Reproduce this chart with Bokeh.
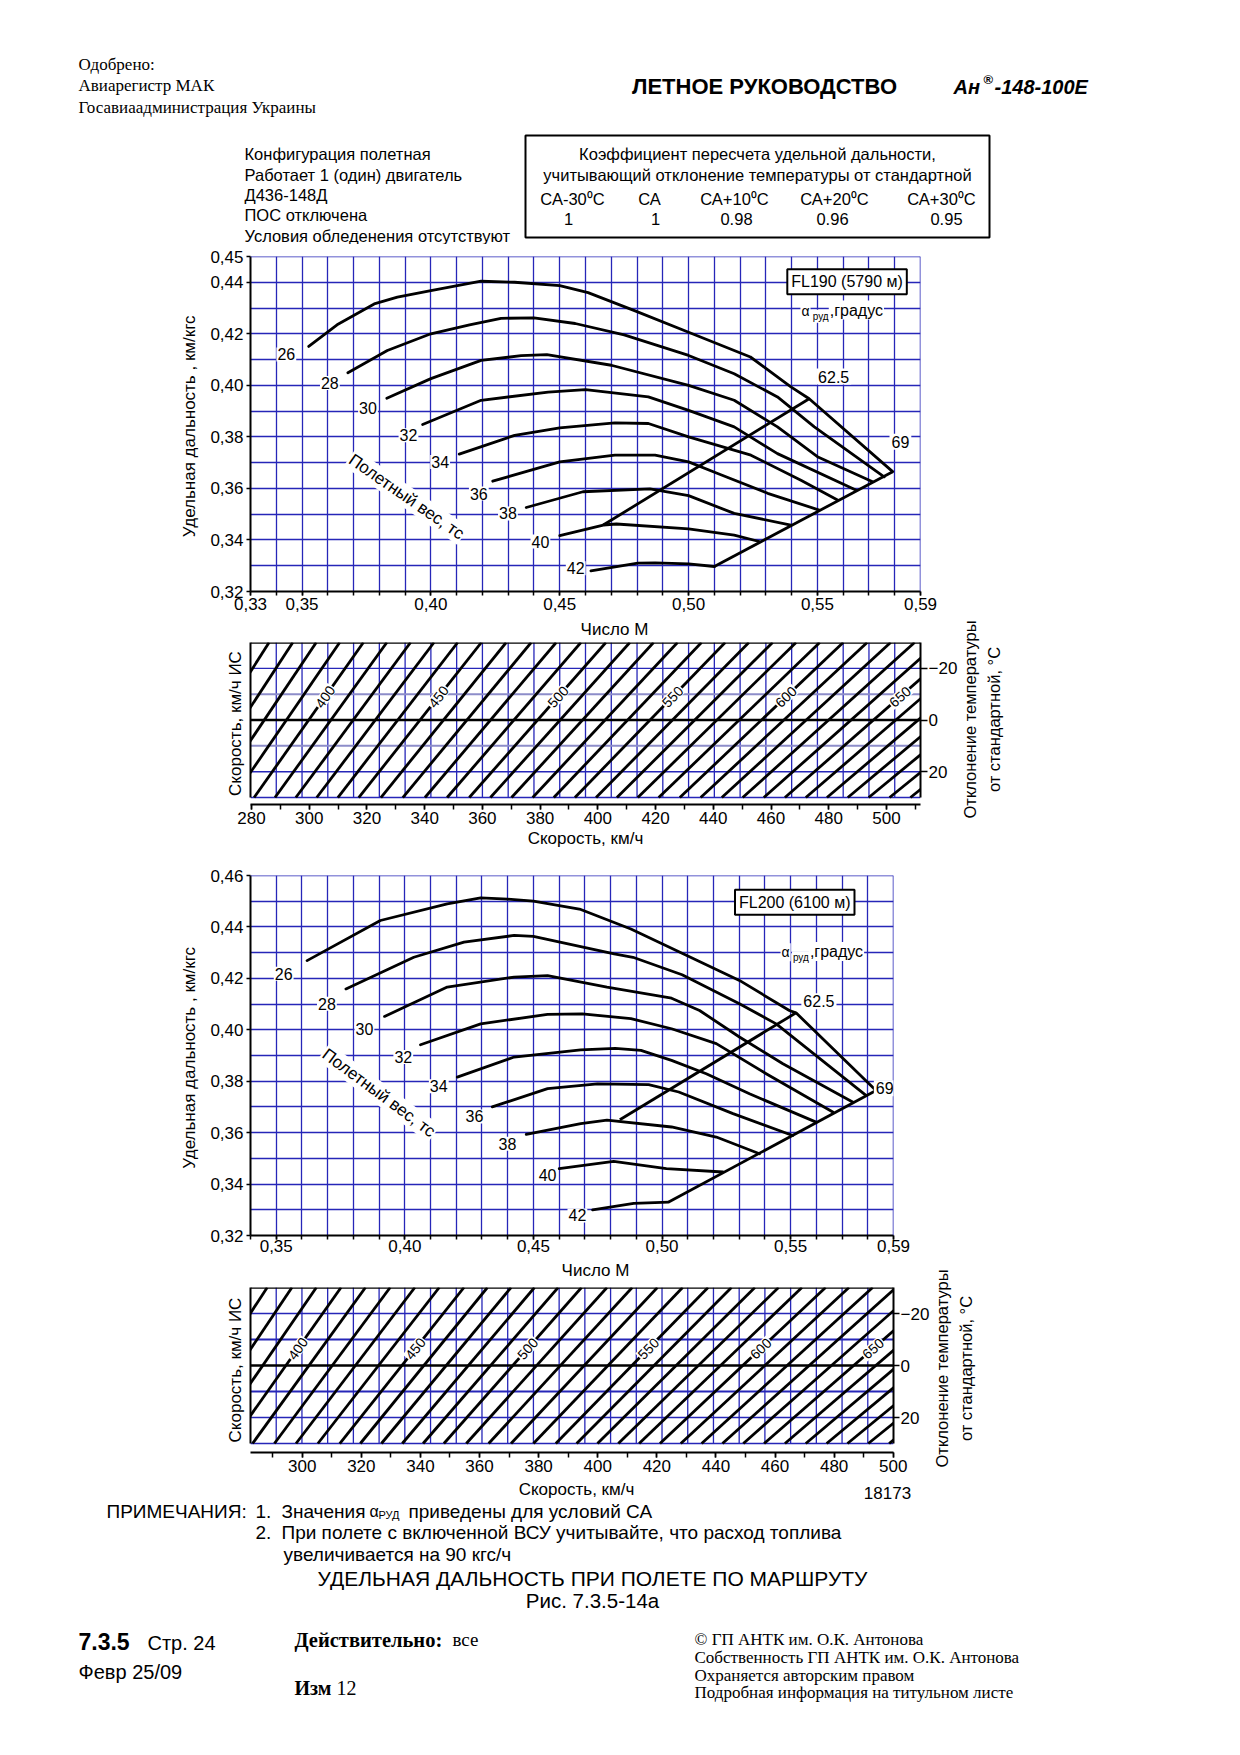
import math
from bokeh.plotting import figure
from bokeh.models import Range1d, LinearAxis, FixedTicker, Label, ColumnDataSource, Span
from bokeh.layouts import column, row
from bokeh.embed import file_html
from bokeh.resources import INLINE
from bokeh.core.properties import value

SANS = "Liberation Sans"
SERIF = "Liberation Serif"
BLUE = "#2626b8"
LAV = "#8d8dc9"
INK = "black"

# ---------------- data ----------------
weights = [26, 28, 30, 32, 34, 36, 38, 40, 42]

# FL190: specific range (km/kgf) vs Mach, one pair of lists per flight weight (t)
fl190_m26 = [0.3526, 0.3636, 0.3780, 0.3870, 0.4000, 0.4195, 0.4325, 0.4500, 0.4610, 0.4790, 0.5000, 0.5240, 0.5397, 0.5468, 0.5792]
fl190_r26 = [0.4151, 0.4235, 0.4316, 0.4342, 0.4368, 0.4404, 0.4400, 0.4387, 0.4360, 0.4290, 0.4206, 0.4110, 0.3994, 0.3948, 0.3665]
fl190_m28 = [0.3678, 0.3831, 0.4000, 0.4150, 0.4272, 0.4400, 0.4560, 0.4750, 0.5000, 0.5177, 0.5345, 0.5488, 0.5759]
fl190_r28 = [0.4049, 0.4135, 0.4200, 0.4235, 0.4260, 0.4262, 0.4240, 0.4196, 0.4116, 0.4045, 0.3955, 0.3839, 0.3645]
fl190_m30 = [0.3829, 0.4000, 0.4195, 0.4350, 0.4450, 0.4700, 0.5000, 0.5177, 0.5345, 0.5500, 0.5714]
fl190_r30 = [0.3950, 0.4026, 0.4097, 0.4115, 0.4119, 0.4078, 0.4000, 0.3942, 0.3839, 0.3723, 0.3626]
fl190_m32 = [0.3968, 0.4195, 0.4455, 0.4600, 0.4844, 0.5000, 0.5177, 0.5345, 0.5649]
fl190_r32 = [0.3848, 0.3942, 0.3974, 0.3983, 0.3955, 0.3903, 0.3839, 0.3735, 0.3594]
fl190_m34 = [0.4110, 0.4325, 0.4500, 0.4714, 0.4844, 0.5000, 0.5242, 0.5436, 0.5578]
fl190_r34 = [0.3733, 0.3806, 0.3835, 0.3854, 0.3852, 0.3800, 0.3729, 0.3632, 0.3555]
fl190_m36 = [0.4240, 0.4500, 0.4714, 0.4870, 0.5000, 0.5113, 0.5307, 0.5507]
fl190_r36 = [0.3628, 0.3703, 0.3729, 0.3729, 0.3703, 0.3658, 0.3581, 0.3516]
fl190_m38 = [0.4370, 0.4590, 0.4850, 0.5000, 0.5177, 0.5397]
fl190_r38 = [0.3526, 0.3587, 0.3598, 0.3572, 0.3503, 0.3458]
fl190_m40 = [0.4500, 0.4669, 0.4720, 0.5000, 0.5177, 0.5274]
fl190_r40 = [0.3417, 0.3458, 0.3462, 0.3443, 0.3419, 0.3394]
fl190_m42 = [0.4621, 0.4803, 0.4870, 0.5000, 0.5100]
fl190_r42 = [0.3280, 0.3310, 0.3311, 0.3307, 0.3297]
fl190_a625_m = [0.4669, 0.5468]
fl190_a625_r = [0.3458, 0.3948]
fl190_a69_m = [0.5100, 0.5792]
fl190_a69_r = [0.3297, 0.3665]
fl190_lab_m = [0.3439, 0.3608, 0.3756, 0.3913, 0.4036, 0.4186, 0.4299, 0.4425, 0.4562]
fl190_lab_r = [0.4120, 0.4009, 0.3914, 0.3806, 0.3703, 0.3580, 0.3503, 0.3394, 0.3290]

# FL200
fl200_m26 = [0.3620, 0.3905, 0.4165, 0.4295, 0.4400, 0.4500, 0.4684, 0.4879, 0.5078, 0.5301, 0.5495, 0.5521, 0.5832]
fl200_r26 = [0.4269, 0.4425, 0.4490, 0.4513, 0.4508, 0.4500, 0.4468, 0.4392, 0.4298, 0.4192, 0.4075, 0.4066, 0.3764]
fl200_m28 = [0.3771, 0.4035, 0.4230, 0.4425, 0.4500, 0.4814, 0.4887, 0.5078, 0.5301, 0.5444, 0.5793]
fl200_r28 = [0.4159, 0.4282, 0.4341, 0.4367, 0.4363, 0.4295, 0.4282, 0.4214, 0.4101, 0.4023, 0.3745]
fl200_m30 = [0.3921, 0.4165, 0.4425, 0.4555, 0.4786, 0.5037, 0.5146, 0.5301, 0.5470, 0.5741]
fl200_r30 = [0.4052, 0.4166, 0.4205, 0.4211, 0.4166, 0.4123, 0.4075, 0.3972, 0.3868, 0.3719]
fl200_m32 = [0.4061, 0.4295, 0.4555, 0.4690, 0.4879, 0.5037, 0.5211, 0.5405, 0.5664]
fl200_r32 = [0.3942, 0.4023, 0.4060, 0.4062, 0.4043, 0.4004, 0.3946, 0.3829, 0.3680]
fl200_m34 = [0.4204, 0.4425, 0.4684, 0.4818, 0.4918, 0.5037, 0.5172, 0.5340, 0.5599]
fl200_r34 = [0.3816, 0.3894, 0.3922, 0.3928, 0.3920, 0.3881, 0.3829, 0.3751, 0.3641]
fl200_m36 = [0.4340, 0.4555, 0.4749, 0.4948, 0.5065, 0.5276, 0.5508]
fl200_r36 = [0.3700, 0.3771, 0.3790, 0.3787, 0.3758, 0.3674, 0.3589]
fl200_m38 = [0.4472, 0.4684, 0.4786, 0.5037, 0.5211, 0.5379]
fl200_r38 = [0.3593, 0.3635, 0.3649, 0.3622, 0.3583, 0.3518]
fl200_m40 = [0.4600, 0.4812, 0.5017, 0.5237]
fl200_r40 = [0.3460, 0.3488, 0.3460, 0.3447]
fl200_m42 = [0.4730, 0.4890, 0.5026]
fl200_r42 = [0.3300, 0.3325, 0.3330]
fl200_a625_m = [0.4836, 0.5521]
fl200_a625_r = [0.3650, 0.4066]
fl200_a69_m = [0.5026, 0.5832]
fl200_a69_r = [0.3330, 0.3764]
fl200_lab_m = [0.3529, 0.3697, 0.3843, 0.3994, 0.4132, 0.4271, 0.4399, 0.4555, 0.4671]
fl200_lab_r = [0.4218, 0.4101, 0.4004, 0.3894, 0.3780, 0.3663, 0.3557, 0.3434, 0.3278]

# Nomograms: true-airspeed lines (km/h), Mach where each meets dT=+30 (bottom) and dT=-30 (top)
tas190 = [350, 360, 370, 380, 390, 400, 410, 420, 430, 440, 450, 460, 470, 480, 490, 500, 510, 520, 530,
          540, 550, 560, 570, 580, 590, 600, 610, 620, 630, 640, 650, 660, 670, 680, 690, 700, 710]
tas190_m_bot = [0.2908, 0.2990, 0.3071, 0.3152, 0.3233, 0.3314, 0.3395, 0.3476, 0.3557, 0.3639, 0.3720, 0.3806,
                0.3891, 0.3977, 0.4063, 0.4149, 0.4231, 0.4313, 0.4395, 0.4477, 0.4559, 0.4641, 0.4722, 0.4803,
                0.4884, 0.4966, 0.5047, 0.5129, 0.5210, 0.5292, 0.5374, 0.5455, 0.5537, 0.5618, 0.5699, 0.5780, 0.5861]
tas190_m_top = [0.3280, 0.3372, 0.3464, 0.3555, 0.3646, 0.3738, 0.3829, 0.3921, 0.4012, 0.4104, 0.4196, 0.4292,
                0.4389, 0.4486, 0.4582, 0.4679, 0.4772, 0.4864, 0.4957, 0.5050, 0.5142, 0.5234, 0.5326, 0.5417,
                0.5509, 0.5600, 0.5693, 0.5784, 0.5877, 0.5969, 0.6061, 0.6153, 0.6245, 0.6336, 0.6428, 0.6519, 0.6611]
tas200 = [360, 370, 380, 390, 400, 410, 420, 430, 440, 450, 460, 470, 480, 490, 500, 510, 520, 530,
          540, 550, 560, 570, 580, 590, 600, 610, 620, 630, 640, 650, 660, 670, 680, 690, 700, 710]
tas200_m_bot = [0.2985, 0.3069, 0.3154, 0.3239, 0.3323, 0.3408, 0.3493, 0.3577, 0.3662, 0.3747, 0.3827, 0.3909,
                0.3990, 0.4071, 0.4152, 0.4239, 0.4326, 0.4413, 0.4500, 0.4587, 0.4668, 0.4749, 0.4830, 0.4911,
                0.4992, 0.5073, 0.5154, 0.5235, 0.5316, 0.5397, 0.5478, 0.5559, 0.5640, 0.5721, 0.5802, 0.5883]
tas200_m_top = [0.3370, 0.3465, 0.3561, 0.3656, 0.3752, 0.3847, 0.3943, 0.4039, 0.4134, 0.4230, 0.4321, 0.4413,
                0.4504, 0.4596, 0.4687, 0.4786, 0.4884, 0.4982, 0.5080, 0.5179, 0.5270, 0.5361, 0.5453, 0.5544,
                0.5636, 0.5727, 0.5819, 0.5910, 0.6002, 0.6093, 0.6185, 0.6276, 0.6368, 0.6459, 0.6551, 0.6642]
tas_labels = [400, 450, 500, 550, 600, 650]
dt_ticks = [-20, 0, 20]
ias190_ticks = [280, 300, 320, 340, 360, 380, 400, 420, 440, 460, 480, 500]
ias200_ticks = [300, 320, 340, 360, 380, 400, 420, 440, 460, 480, 500]

coef_labels = ["СА-30⁰С", "СА", "СА+10⁰С", "СА+20⁰С", "СА+30⁰С"]
coef_values = ["1", "1", "0.98", "0.96", "0.95"]

fl190_m = [fl190_m26, fl190_m28, fl190_m30, fl190_m32, fl190_m34, fl190_m36, fl190_m38, fl190_m40, fl190_m42]
fl190_r = [fl190_r26, fl190_r28, fl190_r30, fl190_r32, fl190_r34, fl190_r36, fl190_r38, fl190_r40, fl190_r42]
fl200_m = [fl200_m26, fl200_m28, fl200_m30, fl200_m32, fl200_m34, fl200_m36, fl200_m38, fl200_m40, fl200_m42]
fl200_r = [fl200_r26, fl200_r28, fl200_r30, fl200_r32, fl200_r34, fl200_r36, fl200_r38, fl200_r40, fl200_r42]


# ---------------- helpers ----------------
def comma(v):
    return f"{v:.2f}".replace(".", ",")


def style_axis(ax, tick_out=5, standoff=3):
    ax.axis_line_color = INK
    ax.axis_line_width = 2
    ax.major_tick_line_color = INK
    ax.major_tick_line_width = 1.5
    ax.major_tick_out = tick_out
    ax.major_tick_in = 0
    ax.minor_tick_line_color = INK
    ax.minor_tick_line_width = 1.5
    ax.minor_tick_out = tick_out
    ax.minor_tick_in = 0
    ax.major_label_text_font = SANS
    ax.major_label_text_font_size = "17px"
    ax.major_label_text_color = INK
    ax.major_label_standoff = standoff
    ax.axis_label_text_font = SANS
    ax.axis_label_text_font_size = "17px"
    ax.axis_label_text_font_style = "normal"
    ax.axis_label_text_color = INK


def lab(p, x, y, text, size="16px", align="center", angle=0.0, bg="white", **kw):
    p.add_layout(Label(x=x, y=y, text=text, text_font=SANS, text_font_size=size, text_align=align,
                       text_baseline="middle", angle=angle, text_color=INK,
                       background_fill_color=bg, **kw))


def txt(p, x, y, s, size, font=SANS, style="normal", align="left", angle=0.0):
    p.text(x=[x], y=[y], text=[s], text_font=value(font), text_font_size=f"{size}px",
           text_font_style=style, text_align=align, text_baseline="middle", text_color=INK, angle=angle)


def text_fig(w, h):
    p = figure(width=w, height=h, x_range=Range1d(0, w), y_range=Range1d(h, 0),
               x_axis_type=None, y_axis_type=None, toolbar_location=None, output_backend="svg",
               min_border=0, frame_align=False)
    p.outline_line_color = None
    p.background_fill_color = "white"
    p.border_fill_color = "white"
    return p


def chart(xr, yr, fw, fh, top, bottom, right, xt, yt, ms, rs, a625, a69, labm, labr,
          fl_text, fl_xy, alpha_xy, v625_xy, v69_xy, wt_xy, wt_ang, x_standoff):
    p = figure(frame_width=fw, frame_height=fh, x_range=Range1d(*xr), y_range=Range1d(*yr),
               min_border_left=250, min_border_right=right, min_border_top=top, min_border_bottom=bottom,
               toolbar_location=None, output_backend="svg", frame_align=False)
    p.outline_line_color = None
    p.background_fill_color = "white"
    p.border_fill_color = "white"
    n_x = int(round((xr[1] - xr[0]) * 100)) + 1
    n_y = int(round((yr[1] - yr[0]) * 100)) + 1
    gx = [round(xr[0] + 0.01 * i, 2) for i in range(n_x)]
    gy = [round(yr[0] + 0.01 * i, 2) for i in range(n_y)]
    xa = p.xaxis[0]
    ya = p.yaxis[0]
    style_axis(xa, 4, x_standoff)
    style_axis(ya, 4, 3)
    xa.ticker = FixedTicker(ticks=xt, minor_ticks=gx)
    xa.major_label_overrides = {t: comma(t) for t in xt}
    ya.ticker = FixedTicker(ticks=yt, minor_ticks=[])
    ya.major_label_overrides = {t: comma(t) for t in yt}
    ya.axis_label = "Удельная  дальность , км/кгс"
    ya.axis_label_standoff = 8
    p.xgrid.ticker = FixedTicker(ticks=gx)
    p.ygrid.ticker = FixedTicker(ticks=gy)
    for g in (p.xgrid, p.ygrid):
        g.grid_line_color = BLUE
        g.grid_line_width = 1.3
    p.add_layout(Span(location=yr[1], dimension="width", line_color=BLUE, line_width=1.5))
    p.add_layout(Span(location=xr[1], dimension="height", line_color=BLUE, line_width=1.5))
    for m, r in zip(ms, rs):
        p.line(m, r, line_color=INK, line_width=2.8, line_join="round", line_cap="round")
    p.line(a625[0], a625[1], line_color=INK, line_width=2.8)
    p.line(a69[0], a69[1], line_color=INK, line_width=2.8)
    for w, x, y in zip(weights, labm, labr):
        lab(p, x, y, str(w), padding=1)
    lab(p, fl_xy[0], fl_xy[1], fl_text, size="16px", border_line_color=INK, border_line_width=2, padding=4)
    lab(p, alpha_xy[0], alpha_xy[1], "α", size="14px", align="left", padding=1)
    lab(p, alpha_xy[0] + 0.0044, alpha_xy[1] - 0.0022, "руд", size="10px", align="left", padding=1)
    lab(p, alpha_xy[0] + 0.0110, alpha_xy[1] + 0.0002, ",градус", size="16px", align="left", padding=1)
    lab(p, v625_xy[0], v625_xy[1], "62.5", padding=2)
    lab(p, v69_xy[0], v69_xy[1], "69", padding=2)
    lab(p, wt_xy[0], wt_xy[1], "Полетный вес, тс", size="17px", angle=wt_ang, padding=1)
    return p


def nomo(xr, ybot, fw, fh, top, bottom, right, ias_range, ias_ticks, tas, mb, mt, lab_dt,
         minor_col, r_tick, with_xlabel):
    p = figure(frame_width=fw, frame_height=fh, x_range=Range1d(*xr), y_range=Range1d(ybot, -30),
               x_axis_type=None, y_axis_type=None,
               min_border_left=250, min_border_right=right, min_border_top=top, min_border_bottom=bottom,
               toolbar_location=None, output_backend="svg", frame_align=False)
    p.outline_line_color = None
    p.background_fill_color = "white"
    p.border_fill_color = "white"
    p.extra_x_ranges = {"ias": Range1d(*ias_range)}
    ias_minor = list(range(int(math.ceil(ias_range[0] / 10.0)) * 10, int(ias_range[1]) + 1, 10))
    bx = LinearAxis(x_range_name="ias", ticker=FixedTicker(ticks=ias_ticks, minor_ticks=ias_minor))
    style_axis(bx, 5, 2)
    if with_xlabel:
        bx.axis_label = "Скорость, км/ч"
        bx.axis_label_standoff = 2
    p.add_layout(bx, "below")
    lx = LinearAxis(ticker=FixedTicker(ticks=[], minor_ticks=[]), bounds=(-30, 30))
    style_axis(lx, 0, 0)
    lx.axis_label = "Скорость, км/ч ИС"
    lx.axis_label_standoff = 6
    p.add_layout(lx, "left")
    rx = LinearAxis(ticker=FixedTicker(ticks=dt_ticks, minor_ticks=[]), bounds=(-30, 30))
    style_axis(rx, r_tick, 1)
    p.add_layout(rx, "right")
    # grid
    n = int(round((xr[1] - xr[0]) * 100))
    gm = [round(xr[0] + 0.01 * i, 2) for i in range(1, n)]
    p.segment(x0=gm, y0=[-30] * len(gm), x1=gm, y1=[30] * len(gm), line_color=BLUE, line_width=1.3)
    p.segment(x0=[xr[0]] * 2, y0=[-20, 20], x1=[xr[1]] * 2, y1=[-20, 20], line_color=BLUE, line_width=1.4)
    p.segment(x0=[xr[0]] * 2, y0=[-10, 10], x1=[xr[1]] * 2, y1=[-10, 10], line_color=minor_col, line_width=2)
    p.segment(x0=[xr[0]], y0=[30], x1=[xr[1]], y1=[30], line_color=BLUE, line_width=1.3)
    p.add_layout(Span(location=0, dimension="width", line_color=INK, line_width=2.6))
    p.add_layout(Span(location=-30, dimension="width", line_color=INK, line_width=2.6))
    src = ColumnDataSource(dict(mb=mb, mt=mt, yb=[30] * len(mb), yt=[-30] * len(mb)))
    p.segment(x0="mb", y0="yb", x1="mt", y1="yt", source=src, line_color=INK, line_width=2.8)
    ppm = fw / (xr[1] - xr[0])
    ppd = fh / (ybot + 30)
    for v in tas_labels:
        i = tas.index(v)
        x = mb[i] + (mt[i] - mb[i]) * (30 - lab_dt) / 60.0
        ang = math.atan2(60 * ppd, (mt[i] - mb[i]) * ppm)
        lab(p, x, lab_dt, str(v), size="14px", angle=ang, padding=1)
    return p


# ---------------- header ----------------
f0 = text_fig(1240, 244)
txt(f0, 78, 64, "Одобрено:", 17, SERIF)
txt(f0, 78, 85, "Авиарегистр МАК", 17, SERIF)
txt(f0, 78, 107, "Госавиаадминистрация Украины", 17, SERIF)
txt(f0, 764, 86, "ЛЕТНОЕ РУКОВОДСТВО", 22, SANS, "bold", "center")
txt(f0, 953, 86, "Ан", 20, SANS, "bold italic")
txt(f0, 983, 79, "®", 13, SANS, "bold")
txt(f0, 994, 86, "-148-100Е", 20, SANS, "bold italic")
for s, y in zip(["Конфигурация  полетная", "Работает 1 (один) двигатель", "Д436-148Д",
                 "ПОС отключена", "Условия обледенения отсутствуют"], [153, 174.5, 194.5, 214.5, 235]):
    txt(f0, 244, y, s, 16.5)
f0.quad(left=[525], right=[989], top=[135], bottom=[237], fill_color=None, line_color=INK, line_width=2)
txt(f0, 757, 153, "Коэффициент пересчета удельной дальности,", 16.5, align="center")
txt(f0, 757, 174.5, "учитывающий отклонение температуры от стандартной", 16.5, align="center")
for s, x in zip(coef_labels, [572, 649, 734, 834, 941]):
    txt(f0, x, 198, s, 16.5, align="center")
for s, x in zip(coef_values, [568, 655, 736, 832, 946]):
    txt(f0, x, 218, s, 16.5, align="center")

# ---------------- FL190 chart ----------------
f1 = chart((0.33, 0.59), (0.32, 0.45), 670, 335, 12, 26, 320,
           [0.33, 0.35, 0.40, 0.45, 0.50, 0.55, 0.59],
           [0.32, 0.34, 0.36, 0.38, 0.40, 0.42, 0.44, 0.45],
           fl190_m, fl190_r, (fl190_a625_m, fl190_a625_r), (fl190_a69_m, fl190_a69_r),
           fl190_lab_m, fl190_lab_r, "FL190 (5790 м)", (0.5615, 0.4402), (0.5434, 0.4290),
           (0.5563, 0.4034), (0.5822, 0.3781), (0.3905, 0.3568), -0.607, 2)

F2_RIGHT = 38
s1 = text_fig(250 + 670 + F2_RIGHT, 23)
txt(s1, 614, 11.5, "Число М", 17, align="center")
f2 = nomo((0.33, 0.59), 32.7, 670, 162, 2, 54, F2_RIGHT, (279.65, 511.8), ias190_ticks,
          tas190, tas190_m_bot, tas190_m_top, -9, LAV, 7, True)
t2 = text_fig(1240 - (250 + 670 + F2_RIGHT), 241)
txt(t2, 9, 102, "Отклонение температуры", 16.5, angle=math.pi / 2, align="center")
txt(t2, 33, 102, "от стандартной, °С", 16.5, angle=math.pi / 2, align="center")

# ---------------- FL200 chart ----------------
f3 = chart((0.34, 0.59), (0.32, 0.46), 643, 360, 17, 24, 347,
           [0.35, 0.40, 0.45, 0.50, 0.55, 0.59],
           [0.32, 0.34, 0.36, 0.38, 0.40, 0.42, 0.44, 0.46],
           fl200_m, fl200_r, (fl200_a625_m, fl200_a625_r), (fl200_a69_m, fl200_a69_r),
           fl200_lab_m, fl200_lab_r, "FL200 (6100 м)", (0.5516, 0.4496), (0.5461, 0.4302),
           (0.5610, 0.4111), (0.5866, 0.3773), (0.3899, 0.3755), -0.639, 0)

F4_RIGHT = 33
s2 = text_fig(250 + 643 + F4_RIGHT, 26)
txt(s2, 595, 10.5, "Число М", 17, align="center")
f4 = nomo((0.34, 0.59), 33.46, 643, 165, 2, 27, F4_RIGHT, (282.5, 500.1), ias200_ticks,
          tas200, tas200_m_bot, tas200_m_top, -6.5, BLUE, 6, False)
t4 = text_fig(1240 - (250 + 643 + F4_RIGHT), 220)
txt(t4, 9, 109, "Отклонение температуры", 16.5, angle=math.pi / 2, align="center")
txt(t4, 33, 109, "от стандартной, °С", 16.5, angle=math.pi / 2, align="center")

# ---------------- notes & footer ----------------
f5 = text_fig(1240, 276)
txt(f5, 576, 10, "Скорость, км/ч", 17, align="center")
txt(f5, 887, 13, "18173", 17, align="center")
txt(f5, 106, 32, "ПРИМЕЧАНИЯ:", 19)
txt(f5, 255, 32, "1.", 19)
txt(f5, 281, 32, "Значения", 19)
txt(f5, 369, 32, "α", 16)
txt(f5, 378, 35, "РУД", 11)
txt(f5, 408, 32, "приведены для условий СА", 19)
txt(f5, 255, 53, "2.", 19)
txt(f5, 281, 53, "При полете с включенной ВСУ учитывайте, что расход топлива", 19)
txt(f5, 283, 75, "увеличивается на 90 кгс/ч", 19)
txt(f5, 592, 99, "УДЕЛЬНАЯ ДАЛЬНОСТЬ ПРИ ПОЛЕТЕ ПО МАРШРУТУ", 21, align="center")
txt(f5, 592, 121, "Рис. 7.3.5-14а", 20.5, align="center")
txt(f5, 78, 162, "7.3.5", 23, SANS, "bold")
txt(f5, 147, 163, "Стр. 24", 20)
txt(f5, 78, 192, "Февр 25/09", 20)
txt(f5, 294, 160, "Действительно:", 20.5, SERIF, "bold")
txt(f5, 452, 160, "все", 19, SERIF)
txt(f5, 294, 208, "Изм", 20, SERIF, "bold")
txt(f5, 336, 208, "12", 20, SERIF)
for s, y in zip(["© ГП АНТК им. О.К. Антонова", "Собственность ГП АНТК им. О.К. Антонова",
                 "Охраняется авторским правом", "Подробная информация на титульном листе"],
                [160, 178, 196, 213]):
    txt(f5, 694, y, s, 17, SERIF)

page = column(f0, f1, row(column(s1, f2, spacing=0), t2, spacing=0),
              f3, row(column(s2, f4, spacing=0), t4, spacing=0), f5, spacing=0)
open("out.html", "w").write(file_html(page, INLINE))
